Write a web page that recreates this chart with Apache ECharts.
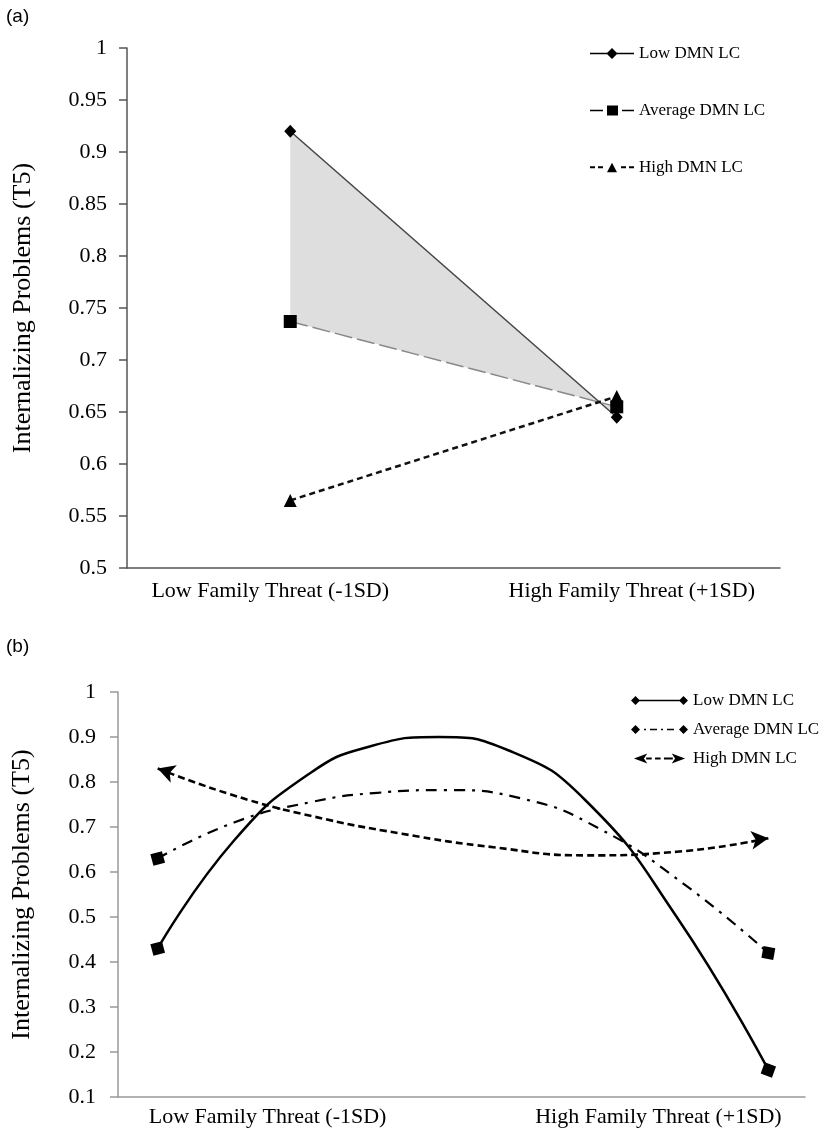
<!DOCTYPE html>
<html>
<head>
<meta charset="utf-8">
<script src="https://cdn.jsdelivr.net/npm/echarts@6/dist/echarts.min.js"></script>
<style>
    html, body { margin: 0; padding: 0; background: #fff; }
    #chartA { width: 840px; height: 620px; }
    #chartB { width: 840px; height: 508px; }
</style>
</head>
<body>
<div id="chartA"></div>
<div id="chartB"></div>
<script>
// panel (a): two categories, three lines
const categoriesA = ['Low Family Threat (-1SD)', 'High Family Threat (+1SD)'];
const lowDmnA = [0.92, 0.645];
const avgDmnA = [0.737, 0.655];
const highDmnA = [0.565, 0.665];
const yTicksA = [0.5, 1, 0.05];

// panel (b): points, x from -1SD to +1SD
const xLabelsB = ['Low Family Threat (-1SD)', 'High Family Threat (+1SD)'];
const xLabelPosB = [-0.64, 0.64];
const lowXB = [-1, -0.75, -0.5, -0.3, -0.08, 0.15, 0.4, 0.7, 1];
const lowDmnB = [0.43, 0.67, 0.82, 0.88, 0.9, 0.87, 0.76, 0.5, 0.16];
const avgXB = [-1, -0.75, -0.5, -0.28, -0.06, 0.2, 0.45, 0.72, 1];
const avgDmnB = [0.63, 0.71, 0.755, 0.776, 0.782, 0.762, 0.695, 0.575, 0.42];
const highXB = [-1, -0.75, -0.5, -0.2, 0.1, 0.4, 0.7, 1];
const highDmnB = [0.83, 0.77, 0.725, 0.685, 0.655, 0.637, 0.645, 0.675];
const yTicksB = [0.1, 1, 0.1];

const seriesNames = ['Low DMN LC', 'Average DMN LC', 'High DMN LC'];

const SERIF = '"Liberation Serif", "DejaVu Serif", serif';
const SANS = '"Liberation Sans", Arial, sans-serif';

const fmt = v => String(+v.toFixed(2));

const labelFont = { fontFamily: SERIF, fontSize: 22, color: '#000' };

const yAxisCommon = (ticks, lineColor, gap, margin) => ({
    type: 'value',
    min: ticks[0],
    max: ticks[1],
    interval: ticks[2],
    name: 'Internalizing Problems (T5)',
    nameLocation: 'middle',
    nameGap: gap,
    nameTextStyle: { fontFamily: SERIF, fontSize: 26, color: '#000' },
    axisLine: { show: true, onZero: false, lineStyle: { color: lineColor, width: 1.5 } },
    axisTick: { show: true, length: 8, lineStyle: { color: lineColor, width: 1.5 } },
    axisLabel: Object.assign({ margin: margin, formatter: fmt }, labelFont),
    splitLine: { show: false }
});

// ---------- (a) ----------
const chartA = echarts.init(document.getElementById('chartA'));

const shadeDiff = lowDmnA.map((v, i) => +(v - avgDmnA[i]).toFixed(3));

chartA.setOption({
    animation: false,
    title: {
        text: '(a)', left: 6, top: 7, padding: 0,
        textStyle: { fontFamily: SANS, fontSize: 19, fontWeight: 'normal', color: '#000' }
    },
    grid: { left: 127, top: 48, width: 653, height: 520 },
    legend: {
        orient: 'vertical',
        left: 590,
        top: 45,
        padding: 0,
        itemWidth: 44,
        itemHeight: 11,
        itemGap: 40,
        selectedMode: false,
        textStyle: { fontFamily: SERIF, fontSize: 17, color: '#000' },
        data: [
            { name: seriesNames[0], icon: 'path://M0,4.8H44V6.2H0Z M22,0L27.5,5.5L22,11L16.5,5.5Z' },
            { name: seriesNames[1], icon: 'path://M0,4.8H13V6.2H0Z M17,0.5H28V10.5H17Z M32,4.8H44V6.2H32Z' },
            { name: seriesNames[2], icon: 'path://M0,4.6H5V6.4H0Z M8,4.6H13V6.4H8Z M17,10.5L22,1L27,10.5Z M31,4.6H36V6.4H31Z M39,4.6H44V6.4H39Z' }
        ]
    },
    xAxis: {
        type: 'category',
        data: categoriesA,
        boundaryGap: true,
        axisLine: { lineStyle: { color: '#555', width: 1.5 } },
        axisTick: { show: false },
        axisLabel: Object.assign({
            margin: 12,
            interval: 0,
            // the two labels sit a little apart from the category centres
            formatter: (v, i) => (i === 0 ? '{lo|' + v + '}' : '{hi|' + v + '}'),
            rich: {
                lo: Object.assign({ padding: [0, 40, 0, 0] }, labelFont),
                hi: Object.assign({ padding: [0, 0, 0, 30] }, labelFont)
            }
        }, labelFont)
    },
    yAxis: yAxisCommon(yTicksA, '#555', 91, 20),
    series: [
        // grey band between low and average lines
        {
            name: 'band-base', type: 'line', stack: 'band', stackStrategy: 'all',
            data: avgDmnA, symbol: 'none', lineStyle: { opacity: 0 }, silent: true, z: 1
        },
        {
            name: 'band', type: 'line', stack: 'band', stackStrategy: 'all',
            data: shadeDiff, symbol: 'none', lineStyle: { opacity: 0 },
            areaStyle: { color: '#dedede', opacity: 1 }, silent: true, z: 1
        },
        {
            name: seriesNames[0], type: 'line', data: lowDmnA,
            symbol: 'diamond', symbolSize: [12, 13],
            itemStyle: { color: '#000' },
            lineStyle: { color: '#444', width: 1.5 }, z: 3
        },
        {
            name: seriesNames[1], type: 'line', data: avgDmnA,
            symbol: 'rect', symbolSize: 13,
            itemStyle: { color: '#000' },
            lineStyle: { color: '#888', width: 1.5, type: [18, 5] }, z: 3
        },
        {
            name: seriesNames[2], type: 'line', data: highDmnA,
            symbol: 'triangle', symbolSize: [13, 13],
            itemStyle: { color: '#000' },
            lineStyle: { color: '#111', width: 2.5, type: [6, 4] }, z: 4
        }
    ]
});

// ---------- (b) ----------
const chartB = echarts.init(document.getElementById('chartB'));

// only the two end points carry a marker
const withEnds = (xs, ys, symbol, size, rotStart, rotEnd) => ys.map((y, i) => {
    const item = { value: [xs[i], y], symbol: 'none' };
    if (i === 0 || i === ys.length - 1) {
        item.symbol = symbol;
        item.symbolSize = size;
        item.symbolRotate = i === 0 ? rotStart : rotEnd;
    }
    return item;
});

chartB.setOption({
    animation: false,
    title: {
        text: '(b)', left: 6, top: 17, padding: 0,
        textStyle: { fontFamily: SANS, fontSize: 19, fontWeight: 'normal', color: '#000' }
    },
    grid: { left: 118, top: 72, right: 35, height: 405 },
    legend: {
        orient: 'vertical',
        left: 631,
        top: 72,
        padding: 0,
        itemWidth: 57,
        itemHeight: 10,
        itemGap: 12,
        selectedMode: false,
        textStyle: { fontFamily: SERIF, fontSize: 17, color: '#000' },
        data: [
            { name: seriesNames[0], icon: 'path://M0,5L4.5,0.5L9,5L4.5,9.5Z M4,4.2H53V5.8H4Z M48,5L52.5,0.5L57,5L52.5,9.5Z' },
            { name: seriesNames[1], icon: 'path://M0,5L4.5,0.5L9,5L4.5,9.5Z M13,4.2H15V5.8H13Z M19,4.2H26V5.8H19Z M30,4.2H32V5.8H30Z M36,4.2H43V5.8H36Z M48,5L52.5,0.5L57,5L52.5,9.5Z' },
            { name: seriesNames[2], icon: 'path://M4,5L16,0.5L13,5L16,9.5Z M15,4.2H20V5.8H15Z M23,4.2H28V5.8H23Z M31,4.2H36V5.8H31Z M34,4.2H39V5.8H34Z M50,5L38,0.5L41,5L38,9.5Z' }
        ]
    },
    xAxis: {
        type: 'value',
        min: -1.13,
        max: 1.12,
        axisLine: { show: true, onZero: false, lineStyle: { color: '#999', width: 1.5 } },
        axisTick: { show: false },
        splitLine: { show: false },
        axisLabel: Object.assign({
            customValues: xLabelPosB,
            margin: 9,
            formatter: v => (v < 0 ? xLabelsB[0] : xLabelsB[1])
        }, labelFont)
    },
    yAxis: yAxisCommon(yTicksB, '#999', 83, 22),
    series: [
        {
            name: seriesNames[0], type: 'line', smooth: 0.5, showAllSymbol: true,
            symbol: 'rect', data: withEnds(lowXB, lowDmnB, 'rect', 12, 15, -20),
            itemStyle: { color: '#000' },
            lineStyle: { color: '#000', width: 2.5 }, z: 3
        },
        {
            name: seriesNames[1], type: 'line', smooth: 0.5, showAllSymbol: true,
            symbol: 'rect', data: withEnds(avgXB, avgDmnB, 'rect', 12, 15, -10),
            itemStyle: { color: '#000' },
            lineStyle: { color: '#000', width: 2.2, type: [11, 7, 3, 7] }, z: 3
        },
        {
            name: seriesNames[2], type: 'line', smooth: 0.5, showAllSymbol: true,
            symbol: 'arrow', data: withEnds(highXB, highDmnB, 'arrow', [14, 17], 71, -83),
            itemStyle: { color: '#000' },
            lineStyle: { color: '#000', width: 2.6, type: [7, 4] }, z: 3
        }
    ]
});
</script>
</body>
</html>
